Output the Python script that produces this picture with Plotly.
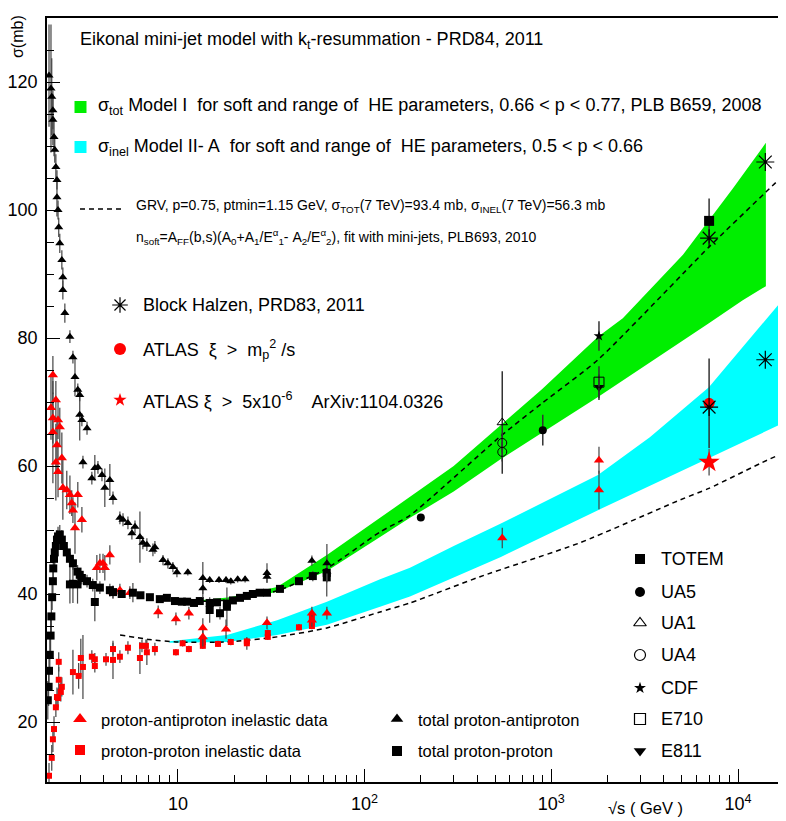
import plotly.graph_objects as go
import math

# ---------------- data ----------------
# total p-pbar cross section (black triangles)
pbarp_tot_x = [2.04, 2.09, 2.11, 2.14, 2.14, 2.17, 2.19, 2.22, 2.25, 2.25, 2.28, 2.30, 2.33, 2.39, 2.42, 2.42, 2.48, 2.64, 2.74, 2.81,
               2.91, 2.98, 2.98, 3.06, 3.26, 3.10, 3.46, 3.59, 3.73, 3.92, 4.06, 4.32, 4.49, 4.89, 5.08, 5.40, 5.67, 5.89, 6.26, 6.49,
               6.82, 7.35, 7.53, 8.32, 8.84, 9.40, 9.88, 11.3, 13.6, 13.6, 14.8, 16.6, 18.1, 19.2, 20.9, 22.9, 30.0, 30.0, 52.2, 62.8, 62.8]
pbarp_tot_y = [121.0, 119.0, 117.7, 115.6, 114.1, 111.4, 109.4, 106.7, 104.7, 102.0, 100.0, 97.3, 94.8, 92.2, 89.5, 87.5, 83.9, 80.2, 77.0, 73.9,
               71.9, 71.1, 68.0, 67.2, 65.9, 60.6, 58.1, 59.7, 59.8, 58.6, 56.6, 57.8, 55.0, 51.9, 51.6, 51.1, 49.5, 50.5, 48.9, 48.0,
               47.7, 46.9, 47.3, 45.3, 44.8, 44.2, 43.4, 43.4, 42.5, 40.9, 42.2, 42.2, 42.2, 42.0, 42.3, 42.3, 43.3, 42.7, 45.2, 44.8, 43.5]
pbarp_tot_err = [8, 10, 6, 3, 4, 3, 2, 2, 1.5, 3, 1.5, 1.5, 1.5, 1.5, 1.5, 1.5, 1.5, 1, 1, 3,
                 1, 1, 4, 1, 1, 1, 1, 2, 1, 1, 3, 2.5, 1, 1, 1, 1, 1, 1, 4, 1,
                 1, 1, 1, 0.8, 0.8, 0.8, 0.8, 0.5, 2.5, 1.5, 0.5, 0.5, 0.5, 0.5, 0.5, 0.5, 1.5, 1, 0.8, 3, 1.5]

# total p-p cross section (black squares)
pp_tot_x = [2.01, 2.03, 2.04, 2.06, 2.08, 2.10, 2.12, 2.14, 2.15, 2.17, 2.19, 2.22, 2.25, 2.28, 2.33, 2.39, 2.45, 2.54, 2.64, 2.64,
            2.74, 2.74, 2.90, 2.90, 2.98, 3.06, 3.26, 3.50, 3.59, 3.82, 4.32, 4.49, 5.0, 5.74, 6.3, 7.08, 8.0, 8.73, 9.64, 10.5,
            11.2, 12.2, 13.1, 14.8, 14.8, 16.2, 16.8, 18.3, 18.3, 19.7, 21.5, 23.4, 25.2, 27.4, 30.0, 35.2, 44.5, 52.8, 62.7, 62.7]
pp_tot_y = [23.4, 25.5, 28.0, 30.5, 33.5, 36.5, 39.5, 42.0, 44.0, 45.5, 46.5, 47.5, 48.5, 49.0, 49.3, 48.5, 47.5, 46.5, 45.5, 41.5,
            44.8, 41.6, 43.5, 41.5, 43.0, 42.5, 42.0, 41.4, 38.75, 41.0, 40.6, 40.3, 40.0, 40.2, 39.8, 39.5, 39.2, 39.4, 38.9, 38.8,
            38.8, 38.6, 38.9, 38.6, 37.5, 38.7, 37.0, 38.5, 38.0, 39.0, 39.4, 39.7, 40.0, 40.2, 40.2, 40.8, 42.0, 42.8, 43.3, 42.6]
pp_tot_err = [3, 3, 3, 3, 3, 3, 2, 2, 2, 2, 2, 2, 1.5, 1.5, 1.5, 1.5, 1, 1, 1, 3,
              1, 3, 1, 3, 1, 1, 1, 1, 3, 1, 1, 1, 0.5, 1.5, 0.5, 0.5, 0.5, 0.5, 0.5, 0.5,
              0.5, 0.5, 0.5, 0.5, 2, 0.5, 1, 0.5, 3, 0.5, 0.5, 0.5, 0.5, 0.5, 0.5, 0.5, 0.5, 0.8, 0.8, 3]

# inelastic p-pbar (red triangles)
pbarp_inel_x = [2.09, 2.14, 2.14, 2.14, 2.22, 2.22, 2.25, 2.28, 2.28, 2.33, 2.39, 2.42, 2.54, 2.64, 2.70, 2.74, 2.81, 2.91, 3.06, 3.68,
                3.82, 3.97, 4.06, 4.32, 4.49, 4.89, 5.53, 7.84, 9.76, 11.45, 13.6, 13.6, 18.1, 30.0, 52.2, 52.2, 62.8, 546, 1800, 1800]
pbarp_inel_y = [69.1, 74.2, 67.5, 65.3, 70.3, 60.6, 63.3, 67.2, 59.1, 66.1, 61.25, 56.6, 56.25, 55.5, 54.2, 53.1, 50.3, 55.5, 51.6, 44.1,
                44.8, 44.8, 44.1, 46.1, 40.3, 40.6, 40.2, 37.2, 36.1, 37.0, 34.7, 33.3, 34.5, 35.5, 37.0, 35.9, 37.0, 48.75, 60.9, 56.25]
pbarp_inel_err = [5, 3, 4, 8, 3, 6, 4, 3, 4, 3, 4, 5, 3, 3, 2, 2, 4, 2, 2, 2,
                  1.5, 1.5, 2, 1.5, 1, 1, 1, 1, 1, 1, 1.5, 1.5, 1.5, 1, 1, 1, 1, 1.6, 2.1, 3]

# inelastic p-p (red squares)
pp_inel_x = [2.04, 2.11, 2.14, 2.17, 2.22, 2.25, 2.28, 2.36, 2.39, 2.30, 2.30, 2.74, 2.94, 3.10, 3.02, 3.46, 3.59, 3.59, 4.12, 4.49,
             4.49, 4.89, 5.40, 6.26, 6.42, 6.74, 6.82, 7.53, 9.76, 10.6, 11.45, 13.6, 13.6, 16.4, 19.2, 23.4, 23.4, 30.3, 30.3, 44.5,
             52.2, 52.2, 52.2]
pp_inel_y = [11.6, 14.4, 17.3, 18.9, 22.3, 23.9, 23.75, 24.7, 25.5, 26.6, 29.4, 27.8, 27.2, 28.6, 30.0, 30.2, 28.75, 29.8, 29.8, 29.7,
             31.4, 30.2, 31.6, 30.0, 31.9, 31.9, 30.9, 31.4, 30.9, 32.3, 31.4, 31.9, 32.5, 32.2, 32.5, 32.6, 32.3, 33.9, 33.3, 34.8,
             36.25, 35.5, 35.0]
pp_inel_err = [2, 2, 2, 2, 1.5, 1.5, 1.5, 1.5, 1.5, 2, 1.5, 3.5, 2, 5, 3, 1, 1, 1, 1, 3,
               1, 1, 1, 2.5, 1, 1, 2, 1, 0.5, 0.5, 0.5, 0.5, 0.5, 0.5, 0.5, 0.5, 1, 0.5, 0.5, 0.5,
               0.5, 0.5, 0.5]

# high-energy experiments
totem_x, totem_y, totem_err = [7000], [98.3], [3.5]
ua5_x, ua5_y, ua5_err = [200, 900], [51.95, 65.6], [0, 2.4]
ua1_x, ua1_y, ua1_err = [546], [66.8], [8]
ua4_x, ua4_y, ua4_err = [546, 546], [63.6, 62.2], [1.5, 1.5]
cdf_x, cdf_y, cdf_err = [1800], [80.3], [2.3]
e710_x, e710_y, e710_err = [1800], [73.1], [2.5]
e811_x, e811_y, e811_err = [1800], [72.3], [2.0]
bh_x, bh_y = [7000, 14000, 7000, 14000], [95.6, 107.5, 69.2, 76.6]
atlas_mp_x, atlas_mp_y, atlas_mp_err = [7000], [69.8], [7.0]
atlas_xi_x, atlas_xi_y, atlas_xi_err = [7000], [60.6], [2.1]

# model bands
green_up_x = [11.9, 19, 34, 62.8, 121, 175, 300, 537, 891, 1778, 2415, 5070, 6980, 9400, 14100]
green_up_y = [38.9, 39.5, 41.1, 46.1, 51.9, 55.2, 60.0, 66.4, 72.0, 80.2, 83.1, 93.0, 98.4, 103.4, 110.5]
green_lo_x = [11.9, 19, 34, 62.8, 121, 175, 300, 537, 891, 1778, 6980, 10600, 14100]
green_lo_y = [38.7, 39.1, 40.3, 43.6, 48.9, 51.9, 56.0, 61.1, 65.2, 70.8, 82.3, 85.9, 88.1]
cyan_up_x = [9, 18.3, 34, 62.8, 121, 175, 300, 537, 1778, 3370, 6980, 18070]
cyan_up_y = [32.6, 33.6, 35.9, 38.8, 42.3, 44.1, 47.5, 51.0, 58.6, 64.5, 72.3, 86.6]
cyan_lo_x = [9, 18.3, 34, 62.8, 121, 175, 300, 537, 1778, 3370, 6980, 18070]
cyan_lo_y = [32.4, 32.5, 33.6, 35.2, 38.0, 39.6, 42.6, 45.8, 53.1, 56.9, 61.25, 66.9]

# GRV curves (dashed)
grv_tot_x = [12, 19, 34, 62.8, 121, 175, 537, 891, 1778, 6980, 14100, 18070]
grv_tot_y = [38.8, 39.1, 40.5, 44.0, 49.7, 52.3, 64.7, 69.8, 76.6, 94.2, 102.8, 105.8]
grv_inel_x = [4.9, 7, 10, 18.3, 34, 62.8, 121, 175, 415, 1422, 4890, 6980, 14300, 18070]
grv_inel_y = [33.6, 32.9, 32.5, 32.5, 33.3, 34.7, 37.2, 38.6, 42.7, 48.0, 54.7, 56.5, 60.9, 62.2]

x_ticks = [10, 100, 1000, 10000]
x_ticktext = ["10", "10<sup>2</sup>", "10<sup>3</sup>", "10<sup>4</sup>"]
y_ticks = [20, 40, 60, 80, 100, 120]

# ---------------- figure ----------------
# the page body adds an 8 px offset; the figure is sized so that the plot
# frame lands on page pixels x 47..786, y 18..782
OFF = 8
W, H = 786 - OFF, 821 - OFF
ML, MR, MT, MB = 47 - OFF, 0, 18 - OFF, 39
PW, PH = W - ML - MR, H - MT - MB
FONT = "Liberation Sans, Arial, Helvetica, sans-serif"


def fx(px):
    return (px - OFF - ML) / PW


def fy(py):
    return (H + OFF - MB - py) / PH


GREEN = "#00ee00"
CYAN = "#00ffff"
ERRC = "#444444"

fig = go.Figure()

fig.add_trace(go.Scatter(x=green_up_x + green_lo_x[::-1], y=green_up_y + green_lo_y[::-1],
                         fill="toself", fillcolor=GREEN, line=dict(width=0), mode="lines",
                         hoverinfo="skip"))
fig.add_trace(go.Scatter(x=cyan_up_x + cyan_lo_x[::-1], y=cyan_up_y + cyan_lo_y[::-1],
                         fill="toself", fillcolor=CYAN, line=dict(width=0), mode="lines",
                         hoverinfo="skip"))
for xs, ys in [(grv_tot_x, grv_tot_y), (grv_inel_x, grv_inel_y)]:
    fig.add_trace(go.Scatter(x=xs, y=ys, mode="lines", line=dict(color="black", width=1.5, dash="5px,4px", shape="spline", smoothing=0.6)))


def pts(x, y, err, symbol, color, size, errcolor=ERRC, errw=1.2, lw=0):
    fig.add_trace(go.Scatter(
        x=x, y=y, mode="markers",
        marker=dict(symbol=symbol, color=color, size=size, line=dict(width=lw, color=color)),
        error_y=dict(type="data", array=err, visible=True, color=errcolor, thickness=errw, width=0) if err is not None else None,
    ))


pts(pp_inel_x, pp_inel_y, pp_inel_err, "square", "#ff0000", 6)
pts(pbarp_inel_x, pbarp_inel_y, pbarp_inel_err, "triangle-up", "#ff0000", 9)
pts(pp_tot_x, pp_tot_y, pp_tot_err, "square", "black", 8)
pts(pbarp_tot_x, pbarp_tot_y, pbarp_tot_err, "triangle-up", "black", 8)

pts(ua1_x, ua1_y, ua1_err, "triangle-up-open", "black", 9, "#333333", 1.5, 1)
pts(ua4_x, ua4_y, ua4_err, "circle-open", "black", 9, "#333333", 1.5, 1)
pts(ua5_x, ua5_y, ua5_err, "circle", "black", 8, "#333333", 1.5)
pts(e811_x, e811_y, e811_err, "triangle-down", "black", 9, "#333333", 1.5)
pts(e710_x, e710_y, e710_err, "square-open", "black", 10, "#333333", 1.5, 1)
pts(cdf_x, cdf_y, cdf_err, "star", "black", 8, "#333333", 1.5)
pts(atlas_mp_x, atlas_mp_y, atlas_mp_err, "circle", "#ff0000", 11, "#333333", 1.5)
pts(atlas_xi_x, atlas_xi_y, atlas_xi_err, "star", "#ff0000", 16, "#666666", 1.5)
pts(totem_x, totem_y, totem_err, "square", "black", 10, "#333333", 1.5)
pts(bh_x, bh_y, None, "asterisk-open", "black", 15, lw=1.2)

# ---------------- legend markers (overlay axes in 0..1 plot-fraction space) ----------------
def lm(px, py, symbol, color, size, lw=0):
    fig.add_trace(go.Scatter(x=[fx(px)], y=[fy(py)], xaxis="x2", yaxis="y2", mode="markers",
                             marker=dict(symbol=symbol, color=color, size=size, line=dict(width=lw, color=color))))


lm(80.5, 107, "square", GREEN, 12)
lm(80.5, 147, "square", CYAN, 12)
fig.add_trace(go.Scatter(x=[fx(80), fx(121)], y=[fy(209), fy(209)], xaxis="x2", yaxis="y2", mode="lines",
                         line=dict(color="black", width=1.5, dash="5px,4px")))
lm(120, 305, "asterisk-open", "black", 13, 1.2)
lm(120, 349, "circle", "#ff0000", 12)
lm(120, 400, "star", "#ff0000", 10)
lm(640, 559, "square", "black", 10)
lm(640, 592, "circle", "black", 10)
lm(640, 623, "triangle-up-open", "black", 11, 1.2)
lm(640, 655, "circle-open", "black", 11, 1.2)
lm(640, 688, "star", "black", 9)
lm(640, 719, "square-open", "black", 11, 1.2)
lm(640, 751, "triangle-down", "black", 11)
lm(80, 719, "triangle-up", "#ff0000", 12)
lm(80, 750, "square", "#ff0000", 10)
lm(397, 719, "triangle-up", "black", 11)
lm(397, 751, "square", "black", 10)

NB = "\u00a0"
ann = []


def txt(px, py, s, size, **kw):
    d = dict(x=fx(px), y=fy(py), xref="paper", yref="paper", text=s, showarrow=False,
             xanchor="left", yanchor="middle", font=dict(family=FONT, size=size, color="black"))
    d.update(kw)
    ann.append(d)


txt(78, 41, "Eikonal mini-jet model with k<sub>t</sub>-resummation - PRD84, 2011", 18)
txt(96, 106, "σ<sub>tot</sub> Model I" + NB + " for soft and range of" + NB + " HE parameters, 0.66 &lt; p &lt; 0.77, PLB B659, 2008", 18)
txt(96, 147, "σ<sub>inel</sub> Model II- A" + NB + " for soft and range of" + NB + " HE parameters, 0.5 &lt; p &lt; 0.66", 18)
txt(134, 206, "GRV, p=0.75, ptmin=1.15 GeV, σ<sub>TOT</sub>(7 TeV)=93.4 mb, σ<sub>INEL</sub>(7 TeV)=56.3 mb", 14)
txt(134, 237, "n<sub>soft</sub>=A<sub>FF</sub>(b,s)(A<sub>0</sub>+A<sub>1</sub>/E<sup>α</sup><sub>1</sub>- A<sub>2</sub>/E<sup>α</sup><sub>2</sub>), fit with mini-jets, PLB693, 2010", 14)
txt(141, 305, "Block Halzen, PRD83, 2011", 18)
txt(141, 350, "ATLAS" + NB + " ξ" + NB + " &gt;" + NB + " m<sub>p</sub><sup>2</sup> /s", 18)
txt(141, 400, "ATLAS ξ" + NB + " &gt;" + NB + " 5x10<sup>-6</sup>" + NB * 3 + " ArXiv:1104.0326", 18)
for name, py in [("TOTEM", 559), ("UA5", 592), ("UA1", 623), ("UA4", 655), ("CDF", 688), ("E710", 719), ("E811", 751)]:
    txt(659, py, name, 18)
txt(99, 720, "proton-antiproton inelastic data", 16.5)
txt(99, 751, "proton-proton inelastic data", 16.5)
txt(416, 720, "total proton-antiproton", 16.5)
txt(416, 751, "total proton-proton", 16.5)
txt(606, 808, "√s ( GeV )", 16.5)
txt(17, 37, "σ(mb)", 16, xanchor="center", textangle=-90)

x_minor = [m * 10 ** e for e in range(0, 5) for m in range(2, 10) if 2 <= m * 10 ** e <= 18000]

fig.update_layout(
    width=W, height=H, margin=dict(l=ML, r=MR, t=MT, b=MB, autoexpand=False),
    paper_bgcolor="white", plot_bgcolor="white", showlegend=False,
    font=dict(family=FONT, size=17, color="black"),
    annotations=ann,
    xaxis=dict(type="log", range=[math.log10(1.99), math.log10(18070)], tickvals=x_ticks, ticktext=x_ticktext,
               ticks="inside", ticklen=13, tickwidth=1, tickcolor="black", showline=True, linecolor="black",
               linewidth=1.5, mirror=True, showgrid=False, zeroline=False, ticklabelstandoff=5,
               tickfont=dict(size=18),
               minor=dict(tickmode="array", tickvals=x_minor, ticks="inside", ticklen=7, tickcolor="black", showgrid=False)),
    yaxis=dict(range=[10.625, 130], tickvals=y_ticks, ticks="inside", ticklen=13, tickcolor="black",
               showline=True, linecolor="black", linewidth=1.5, showgrid=False, zeroline=False,
               tickfont=dict(size=18), ticklabelstandoff=4,
               minor=dict(dtick=5, ticks="inside", ticklen=7, tickcolor="black", showgrid=False)),
    xaxis2=dict(overlaying="x", range=[0, 1], visible=False, fixedrange=True),
    yaxis2=dict(overlaying="y", range=[0, 1], visible=False, fixedrange=True),
)

fig.write_html("out.html")
